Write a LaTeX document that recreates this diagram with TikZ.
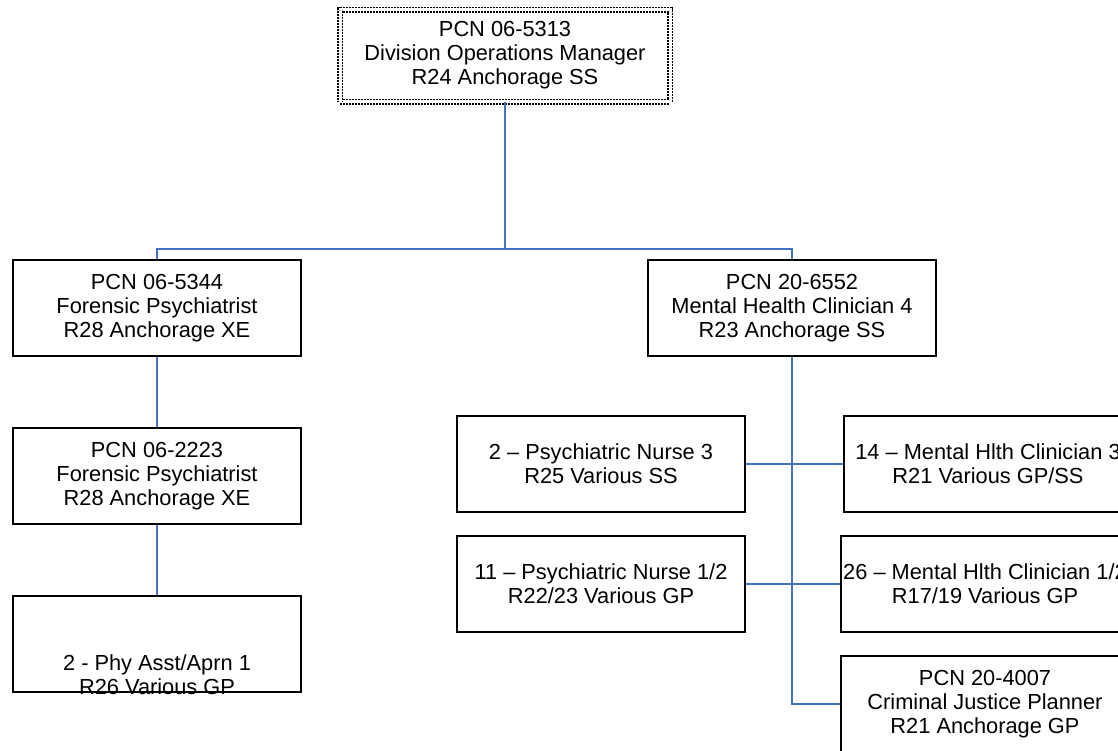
\documentclass[tikz,border=0pt]{standalone}
\usepackage{fontspec}
\setmainfont{Liberation Sans}
\definecolor{linkblue}{RGB}{68,114,196}
\begin{document}
\begin{tikzpicture}[x=0.5pt,y=-0.5pt,
    every node/.style={font=\fontsize{10.9}{12}\selectfont, align=center},
    box/.style={draw, line width=1pt, minimum width=144pt, minimum height=48pt, inner sep=0pt},
    topbox/.style={draw, double, double distance=1.5pt, line width=0.75pt,
      dash pattern=on 1pt off 0.5pt, minimum width=165pt, minimum height=46pt, inner sep=0pt},
    link/.style={draw=linkblue, line width=1pt}]
  \useasboundingbox (0,0) rectangle (1118,750);
  \clip (0,0) rectangle (1118,750);
  \node[topbox] (top) at (505,55.5) {PCN 06-5313\\Division Operations Manager\\R24 Anchorage SS};
  \node[box] (fp1) at (157,308) {PCN 06-5344\\Forensic Psychiatrist\\R28 Anchorage XE};
  \node[box] (fp2) at (157,476) {PCN 06-2223\\Forensic Psychiatrist\\R28 Anchorage XE};
  \node[box] (pa) at (157,644) {};
  \node[anchor=south, inner sep=0pt] (patext) at ([yshift=-1pt]pa.south) {2 - Phy Asst/Aprn 1\\R26 Various GP};
  \node[box] (mhc) at (792,308) {PCN 20-6552\\Mental Health Clinician 4\\R23 Anchorage SS};
  \node[box] (pn3) at (601,464) {2 – Psychiatric Nurse 3\\R25 Various SS};
  \node[box] (mhc3) at (988,464) {14 – Mental Hlth Clinician 3\\R21 Various GP/SS};
  \node[box] (pn12) at (601,584) {11 – Psychiatric Nurse 1/2\\R22/23 Various GP};
  \node[box] (mhc12) at (985,584) {26 – Mental Hlth Clinician 1/2\\R17/19 Various GP};
  \node[box] (cjp) at (985,704) {PCN 20-4007\\Criminal Justice Planner\\R21 Anchorage GP};
  \coordinate (bus) at (505,249);
  \draw[link] (top.south) -- (bus);
  \draw[link] (fp1.north) |- (bus) -| (mhc.north);
  \draw[link] (fp1.south) -- (fp2.north);
  \draw[link] (fp2.south) -- (pa.north);
  \draw[link] (mhc.south) |- (cjp.west);
  \draw[link] (pn3.east) -- (mhc3.west);
  \draw[link] (pn12.east) -- (mhc12.west);
\end{tikzpicture}
\end{document}
